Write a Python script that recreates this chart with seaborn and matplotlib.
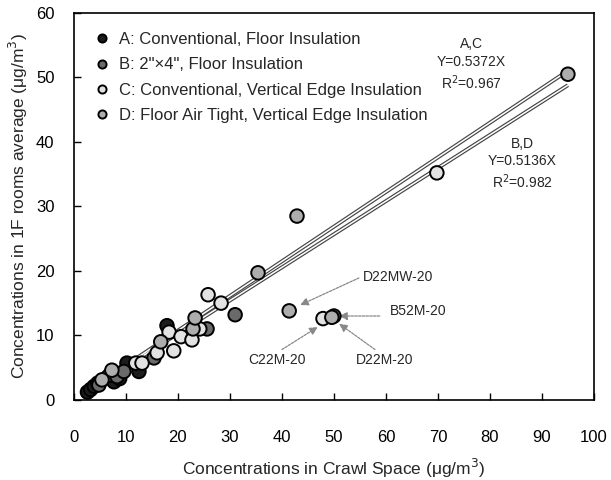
import matplotlib
matplotlib.use("Agg")
import matplotlib.pyplot as plt
import seaborn as sns
import pandas as pd
import numpy as np

sns.set_theme(style="white")
plt.rcParams['font.family'] = ['Liberation Sans', 'DejaVu Sans']

labels = {
    "A": "A: Conventional, Floor Insulation",
    "B": 'B: 2"×4", Floor Insulation',
    "C": "C: Conventional, Vertical Edge Insulation",
    "D": "D: Floor Air Tight, Vertical Edge Insulation",
}
a_x = [2.6, 3.2, 3.9, 4.6, 6.3, 7.7, 8.8, 10.2, 12.5, 17.9]
a_y = [1.2, 1.6, 2.1, 2.6, 3.4, 2.8, 3.3, 5.7, 4.4, 11.5]
b_x = [4.8, 6.8, 8.3, 9.6, 15.4, 25.6, 31.0, 50.0]
b_y = [2.3, 3.8, 3.6, 4.4, 6.5, 11.0, 13.2, 13.0]
c_x = [11.9, 13.1, 16.0, 18.3, 19.2, 20.6, 22.7, 24.2, 25.8, 28.3, 47.9, 69.8]
c_y = [5.7, 5.7, 7.3, 10.5, 7.6, 9.8, 9.3, 11.0, 16.3, 15.0, 12.6, 35.2]
d_x = [5.4, 7.3, 16.7, 22.9, 23.3, 35.4, 41.4, 42.9, 49.6, 95.0]
d_y = [3.1, 4.6, 9.0, 11.0, 12.7, 19.7, 13.8, 28.5, 12.8, 50.5]

slope_ac = 0.5372
slope_bd = 0.5136
line_x = [3.0, 95.0]

rows = []
for g, xs, ys in [("A", a_x, a_y), ("B", b_x, b_y), ("C", c_x, c_y), ("D", d_x, d_y)]:
    for x, y in zip(xs, ys):
        rows.append({"x": x, "y": y, "group": labels[g]})
df = pd.DataFrame(rows)

palette = {
    labels["A"]: "#1c1c1c",
    labels["B"]: "#6a6a6a",
    labels["C"]: "#e2e2e2",
    labels["D"]: "#adadad",
}

fig = plt.figure(figsize=(6.11, 4.8), dpi=100)
ax = fig.add_axes([0.121, 0.167, 0.851, 0.806])

# regression lines drawn as double lines
for s in (slope_ac, slope_bd):
    ys = [s * v for v in line_x]
    ax.plot(line_x, ys, color="#444444", lw=2.8, zorder=2, solid_capstyle="butt")
    ax.plot(line_x, ys, color="white", lw=1.1, zorder=2.1, solid_capstyle="butt")

sns.scatterplot(data=df, x="x", y="y", hue="group", palette=palette,
                hue_order=[labels[k] for k in "ABCD"],
                s=95, edgecolor="black", linewidth=1.4, ax=ax, zorder=3)

ax.set_xlim(0, 100)
ax.set_ylim(0, 60)
ax.set_xticks(range(0, 101, 10))
ax.set_yticks(range(0, 61, 10))
ax.tick_params(direction="in", length=5, width=1, colors="black", labelsize=12,
               bottom=True, left=True)
ax.tick_params(axis="x", pad=22)
ax.tick_params(axis="y", pad=14)
for sp in ax.spines.values():
    sp.set_color("black")
    sp.set_linewidth(1.2)
ax.set_xlabel("Concentrations in Crawl Space (μg/m$^3$)", fontsize=12.5, labelpad=8)
ax.set_ylabel("Concentrations in 1F rooms average (μg/m$^3$)", fontsize=12.5, labelpad=4)

leg = ax.legend(loc="upper left", frameon=False, fontsize=12, markerscale=0.6,
                handletextpad=0.0, labelspacing=0.62, borderaxespad=0.0,
                bbox_to_anchor=(0.01, 0.968))

ax.text(76.5, 52.0, "A,C\nY=0.5372X\nR$^2$=0.967", ha="center", va="center",
        fontsize=10, linespacing=1.3)
ax.text(86.2, 36.6, "B,D\nY=0.5136X\nR$^2$=0.982", ha="center", va="center",
        fontsize=10, linespacing=1.3)

arrow_kw = dict(arrowstyle="-|>", color="#888888", lw=0.9, ls=(0, (2, 1)),
                mutation_scale=12, shrinkA=0, shrinkB=0)
annots = [
    ("D22MW-20", (43.5, 14.7), (55.6, 19.1), "left", (54.8, 18.9)),
    ("B52M-20", (51.0, 13.0), (60.8, 13.8), "left", (58.8, 13.0)),
    ("D22M-20", (51.0, 11.8), (59.8, 6.2), "center", (57.9, 7.8)),
    ("C22M-20", (46.9, 11.3), (39.0, 6.2), "center", (40.0, 7.8)),
]
for txt, tip, tpos, ha, tail in annots:
    ax.annotate("", xy=tip, xytext=tail, arrowprops=arrow_kw, zorder=2.5)
    ax.text(tpos[0], tpos[1], txt, ha=ha, va="center", fontsize=10)

fig.savefig("out.png", dpi=100)
